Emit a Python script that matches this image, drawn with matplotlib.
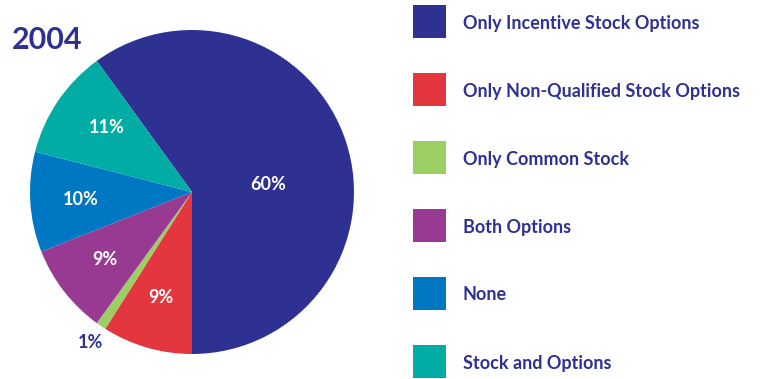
import numpy as np
import matplotlib
matplotlib.use("Agg")
import matplotlib.pyplot as plt

# 2004 equity compensation mix, in legend order
categories = ["Only Incentive Stock Options", "Only Non-Qualified Stock Options",
              "Only Common Stock", "Both Options", "None", "Stock and Options"]
shares = [60, 9, 1, 9, 10, 11]
colors = ["#2E3192", "#E3363F", "#9BCF63", "#993A92", "#0077C2", "#00ACA4"]
year = "2004"

NAVY = "#2E3192"
FONT = "Lato"
WEIGHT = "bold"

fig = plt.figure(figsize=(7.6, 3.79), dpi=100)
W, H = 760, 379

# pie: centre (192, 192) px, radius 162 px
ax = fig.add_axes([30 / W, 1 - 354 / H, 324 / W, 324 / H])
wedges, _ = ax.pie(shares, colors=colors, startangle=126, counterclock=False,
                   radius=1.0, wedgeprops=dict(linewidth=0))
ax.set_xlim(-1, 1)
ax.set_ylim(-1, 1)
ax.set_aspect("equal")
ax.axis("off")

# value labels: radius per slice, small angle nudge for the big one
label_r = [0.47, 0.68, 1.12, 0.68, 0.69, 0.66]
label_da = [-12, 0, 0, 0, 0, -3]
for w, v, r, da in zip(wedges, shares, label_r, label_da):
    ang = np.deg2rad((w.theta1 + w.theta2) / 2 + da)
    inside = r < 1
    ax.text(r * np.cos(ang), r * np.sin(ang), f"{v}%",
            ha="center", va="center", fontsize=13, fontweight=WEIGHT,
            family=FONT, color="white" if inside else NAVY)

fig.text(12 / W, 1 - 40 / H, year, ha="left", va="center",
         fontsize=22, fontweight=WEIGHT, family=FONT, color=NAVY)

# legend: 33px swatches every 68px
for i, (lab, c) in enumerate(zip(categories, colors)):
    y0 = 5 + 68 * i
    fig.patches.append(plt.Rectangle((413 / W, 1 - (y0 + 33) / H), 33 / W, 33 / H,
                                     transform=fig.transFigure, color=c, lw=0))
    fig.text(463 / W, 1 - (y0 + 18) / H, lab, ha="left", va="center",
             fontsize=13, fontweight=WEIGHT, family=FONT, color=NAVY)

fig.savefig("out.png", dpi=100)
